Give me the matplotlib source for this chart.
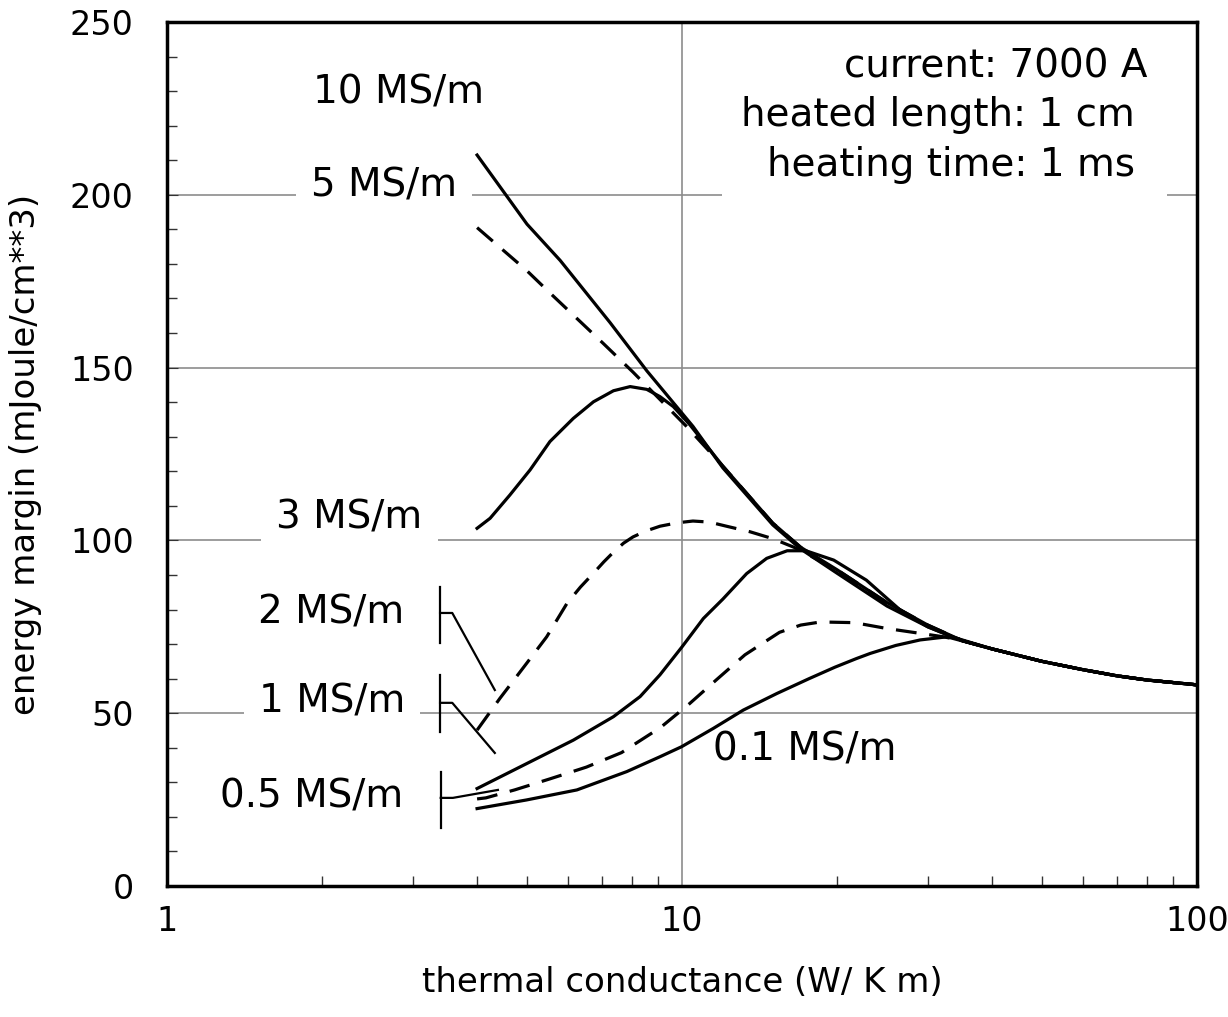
import numpy as np
import matplotlib
matplotlib.use("Agg")
from matplotlib import pyplot as plt
from matplotlib.ticker import FixedLocator, NullFormatter

# values (x: W/K m, y: mJoule/cm**3)
tail_x = [40, 50, 60, 70, 80, 100]
tail_y = [68.6, 65.0, 62.6, 60.8, 59.6, 58.2]

k10_x = [4, 5, 5.8, 7.25, 8.55, 10.5, 12, 15, 17, 20, 25, 30, 35]
k10_y = [211.5, 191.5, 181, 163, 149, 133, 121, 104.5, 97.5, 90.5, 81, 75, 71]

k5_x = [4, 5, 5.54, 7.03, 8.03, 10.2, 12, 15, 17, 20, 25, 30, 35]
k5_y = [190.5, 178, 171.6, 157, 148.7, 133, 121.5, 105, 98, 91, 81.5, 75.3, 71]

k3_x = [4, 4.24, 4.63, 5.07, 5.54, 6.15, 6.73, 7.36, 7.93, 8.54, 9.06, 9.62,
        10.35, 12, 15, 17, 20, 25, 30, 35]
k3_y = [103.5, 106.4, 113.1, 120.4, 128.6, 135.3, 140.1, 143.3, 144.5, 143.7,
        141.6, 138.7, 133.5, 121.5, 105, 98, 91.5, 82, 75.5, 71]

k2_x = [4.0, 4.43, 4.99, 5.46, 5.98, 6.35, 6.73, 7.05, 7.36, 7.7, 8.03, 8.5,
        9.06, 9.8, 10.5, 11.3, 12.2, 13.55, 15, 16.5, 20, 25, 30, 35]
k2_y = [45.1, 54.3, 64.4, 72.1, 81.8, 86.5, 90.5, 93.8, 96.6, 99.2, 101.0,
        102.7, 104.1, 105.1, 105.6, 105.3, 104.1, 102.5, 100.5, 98, 91.5, 82,
        75.5, 71]

k1_x = [4.0, 4.99, 6.15, 7.36, 8.29, 9.06, 10.0, 11.0, 12.0, 13.35, 14.6, 16.0,
        17.4, 19.7, 22.8, 26.5, 30, 33.6]
k1_y = [28.2, 35.4, 42.2, 49.0, 54.8, 61.1, 69.2, 77.4, 83.0, 90.4, 94.8,
        97.0, 97.0, 94.3, 88.5, 79.9, 75.0, 72.0]

k05_x = [4.0, 4.16, 4.73, 5.54, 6.52, 7.63, 9.09, 10.33, 11.73, 13.25, 15.46,
         17.0, 18.58, 21.6, 25.0, 29.0, 32.2, 35]
k05_y = [25.2, 25.5, 27.8, 31.0, 34.4, 38.6, 45.9, 52.7, 60.0, 66.9, 73.4,
         75.5, 76.4, 76.2, 74.5, 73.1, 72.1, 71]

k01_x = [4.0, 4.99, 6.25, 7.81, 9.06, 9.98, 11.5, 13.15, 15.28, 17.65, 19.8,
         21.8, 23.2, 26.0, 29.0, 32.7]
k01_y = [22.4, 24.9, 27.8, 33.1, 37.4, 40.3, 45.6, 50.9, 55.7, 60.0, 63.3,
         65.8, 67.3, 69.6, 71.2, 72.1]

curves = [
    (k10_x, k10_y, '-'),
    (k5_x, k5_y, '--'),
    (k3_x, k3_y, '-'),
    (k2_x, k2_y, '--'),
    (k1_x, k1_y, '-'),
    (k05_x, k05_y, '--'),
    (k01_x, k01_y, '-'),
]

FS_TXT = 28
FS_TICK = 24
FS_LAB = 24.5

fig = plt.figure(figsize=(12.28, 10.17), dpi=100)
ax = fig.add_axes([0.136, 0.1288, 0.8388, 0.8496])

for xs, ys, style in curves:
    x = np.array(xs + tail_x, dtype=float)
    y = np.array(ys + tail_y, dtype=float)
    if style == '--':
        ax.plot(x, y, color='black', lw=2.3, linestyle=(0, (6.5, 4)),
                solid_joinstyle='round', zorder=4)
    else:
        ax.plot(x, y, color='black', lw=2.3, solid_joinstyle='round', zorder=4)

ax.set_xscale('log')
ax.set_xlim(1, 100)
ax.set_ylim(0, 250)

ax.xaxis.set_major_locator(FixedLocator([1, 10, 100]))
ax.set_xticklabels(['1', '10', '100'])
ax.xaxis.set_minor_locator(FixedLocator([2, 3, 4, 5, 6, 7, 8, 9,
                                         20, 30, 40, 50, 60, 70, 80, 90]))
ax.xaxis.set_minor_formatter(NullFormatter())
ax.set_yticks(np.arange(0, 251, 50))
ax.set_yticks(np.arange(0, 251, 10), minor=True)

ax.grid(which='major', color='#8c8c8c', lw=1.2, zorder=1)
ax.set_axisbelow(True)
ax.tick_params(which='both', direction='in', top=False, right=False,
               color='#333333', labelsize=FS_TICK)
ax.tick_params(axis='y', which='major', length=8, pad=24)
ax.tick_params(axis='x', which='major', length=0, pad=14)
ax.tick_params(which='minor', length=7, width=1)
for sp in ax.spines.values():
    sp.set_linewidth(2.5)

ax.set_xlabel('thermal conductance (W/ K m)', fontsize=FS_LAB, labelpad=20)
ax.set_ylabel('energy margin (mJoule/cm**3)', fontsize=FS_LAB, labelpad=20)

box = dict(facecolor='white', edgecolor='none', pad=11)
ax.text(2.81, 229.5, '10 MS/m', fontsize=FS_TXT, ha='center', va='center', zorder=3)
ax.text(2.64, 202.8, '5 MS/m', fontsize=FS_TXT, ha='center', va='center',
        bbox=box, zorder=3)
ax.text(2.26, 106.5, '3 MS/m', fontsize=FS_TXT, ha='center', va='center',
        bbox=box, zorder=3)
ax.text(2.08, 79.0, '2 MS/m', fontsize=FS_TXT, ha='center', va='center',
        bbox=box, zorder=3)
ax.text(2.09, 53.5, '1 MS/m', fontsize=FS_TXT, ha='center', va='center',
        bbox=box, zorder=3)
ax.text(1.91, 25.8, '0.5 MS/m', fontsize=FS_TXT, ha='center', va='center',
        bbox=box, zorder=3)
ax.text(17.3, 39.4, '0.1 MS/m', fontsize=FS_TXT, ha='center', va='center', zorder=3)

ax.text(0.952, 0.971,
        'current: 7000 A\nheated length: 1 cm \nheating time: 1 ms ',
        transform=ax.transAxes, fontsize=FS_TXT, ha='right', va='top',
        multialignment='right', linespacing=1.38,
        bbox=dict(facecolor='white', edgecolor='none', pad=14), zorder=3)

# label brackets
bk = dict(color='black', lw=1.6, zorder=4)
ax.plot([3.39, 3.39], [86.5, 70.3], **bk)
ax.plot([3.39, 3.58, 4.33], [79.0, 79.0, 56.7], **bk)
ax.plot([3.39, 3.39], [61.1, 44.6], **bk)
ax.plot([3.39, 3.58, 4.33], [53.0, 53.0, 38.5], **bk)
ax.plot([3.40, 3.40], [33.0, 16.8], **bk)
ax.plot([3.40, 3.59, 4.39], [25.5, 25.5, 27.8], **bk)

fig.savefig('out.png', dpi=100)
